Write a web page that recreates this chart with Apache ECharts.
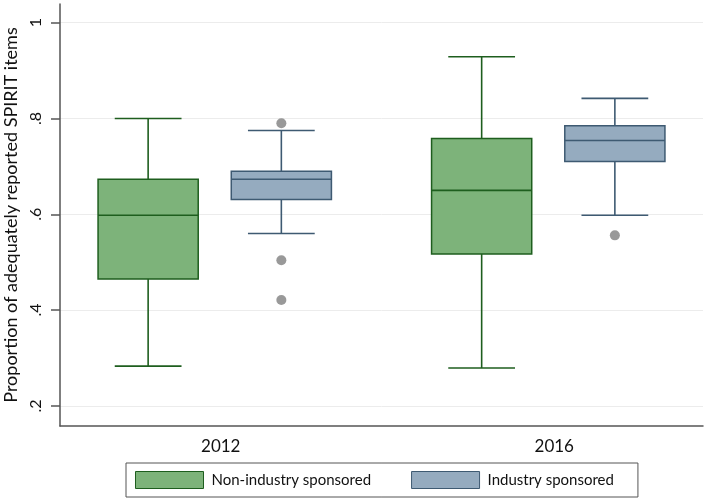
<!DOCTYPE html>
<html><head><meta charset="utf-8">
<script src="https://cdn.jsdelivr.net/npm/echarts@6/dist/echarts.min.js"></script>
<style>html,body{margin:0;padding:0;background:#fff}#c{width:708px;height:498px}</style>
</head><body><div id="c"></div>
<script>
const years = ['2012', '2016'];
const seriesNames = ['Non-industry sponsored', 'Industry sponsored'];
// [min, Q1, median, Q3, max] per year
const nonIndustry = [[0.283, 0.465, 0.598, 0.673, 0.800], [0.279, 0.517, 0.650, 0.758, 0.929]];
const industry = [[0.560, 0.631, 0.673, 0.690, 0.775], [0.598, 0.710, 0.754, 0.785, 0.842]];
// [year index, value]
const industryOutliers = [[0, 0.790], [0, 0.504], [0, 0.421], [1, 0.556]];
const yTicks = [0.2, 0.4, 0.6, 0.8, 1];

const FONT = 'Lato';
const OUTER = 0.38, BOXGAP = 0.33, GROUPGAP = 1.0;
function xPos(yearIdx, sIdx) { return OUTER + 0.5 + yearIdx * (2 + BOXGAP + GROUPGAP) + sIdx * (1 + BOXGAP); }
function groupCenter(i) { return (xPos(i, 0) + xPos(i, 1)) / 2; }
const xMax = xPos(years.length - 1, 1) + 0.5 + OUTER;
const styles = [{ fill: '#7db37a', stroke: '#1e5e1e' }, { fill: '#95abbf', stroke: '#3e5a72' }];

function renderBox(sIdx) {
  return function (params, api) {
    const x = api.value(0);
    const vals = [1, 2, 3, 4, 5].map(d => api.value(d));
    const cx = api.coord([x, vals[2]])[0];
    const w = api.size([1, 0])[0];
    const half = w / 2, cap = w / 3;
    const y = vals.map(v => api.coord([x, v])[1]);
    const st = styles[sIdx];
    const line = { stroke: st.stroke, lineWidth: 1.6 };
    return { type: 'group', children: [
      { type: 'line', shape: { x1: cx, y1: y[0], x2: cx, y2: y[1] }, style: line },
      { type: 'line', shape: { x1: cx, y1: y[3], x2: cx, y2: y[4] }, style: line },
      { type: 'line', shape: { x1: cx - cap, y1: y[0], x2: cx + cap, y2: y[0] }, style: line },
      { type: 'line', shape: { x1: cx - cap, y1: y[4], x2: cx + cap, y2: y[4] }, style: line },
      { type: 'rect', shape: { x: cx - half, y: y[3], width: w, height: y[1] - y[3] }, style: { fill: st.fill, stroke: st.stroke, lineWidth: 1.5 } },
      { type: 'line', shape: { x1: cx - half, y1: y[2], x2: cx + half, y2: y[2] }, style: line }
    ] };
  };
}

const groups = [nonIndustry, industry];
const chart = echarts.init(document.getElementById('c'));
chart.setOption({
  animation: false,
  backgroundColor: '#fff',
  grid: { left: 60, right: 5, top: 4, bottom: 72, containLabel: false, outerBoundsMode: 'none' },
  xAxis: {
    type: 'value', min: 0, max: xMax,
    axisLine: { show: true, lineStyle: { color: '#555', width: 1.5 } },
    axisTick: { show: false },
    splitLine: { show: false },
    axisLabel: {
      customValues: years.map((_, i) => groupCenter(i)),
      formatter: function (v) {
        let best = 0;
        years.forEach((_, i) => { if (Math.abs(groupCenter(i) - v) < Math.abs(groupCenter(best) - v)) best = i; });
        return years[best];
      },
      margin: 12, fontSize: 17, fontFamily: FONT, color: '#111', padding: [0, 0, 0, 12]
    }
  },
  yAxis: {
    type: 'value', min: 0.158, max: 1.039,
    name: 'Proportion of adequately reported SPIRIT items',
    nameLocation: 'middle', nameGap: 40,
    nameTextStyle: { fontSize: 18, fontFamily: FONT, color: '#111' },
    axisLine: { show: true, lineStyle: { color: '#555', width: 1.5 } },
    axisTick: { show: true, length: 9, customValues: yTicks, lineStyle: { color: '#555', width: 1.5 } },
    splitLine: { show: true, lineStyle: { color: '#ececec', width: 1 } },
    axisLabel: {
      customValues: yTicks, rotate: 90, margin: 16,
      fontSize: 16, fontFamily: FONT, color: '#111',
      formatter: v => v >= 1 ? '1' : String(+v.toFixed(1)).replace(/^0/, '')
    }
  },
  legend: {
    data: seriesNames.map((n, i) => ({ name: n, itemStyle: { color: styles[i].fill, borderColor: styles[i].stroke, borderWidth: 1 } })),
    left: 126, top: 463, icon: 'rect',
    padding: [8, 24, 8, 9], itemGap: 40, itemWidth: 68, itemHeight: 17,
    borderColor: '#555', borderWidth: 1,
    textStyle: { fontSize: 15, fontFamily: FONT, color: '#111', padding: [0, 0, 0, 3] }
  },
  series: groups.map((g, s) => ({
    name: seriesNames[s], type: 'custom',
    itemStyle: { color: styles[s].fill, borderColor: styles[s].stroke },
    encode: { x: 0, y: [1, 2, 3, 4, 5] },
    renderItem: renderBox(s),
    data: g.map((v, yi) => [xPos(yi, s)].concat(v))
  })).concat([{
    type: 'scatter', name: 'outliers', symbolSize: 10,
    itemStyle: { color: '#808080' },
    data: industryOutliers.map(o => [xPos(o[0], 1), o[1]])
  }])
});
</script></body></html>
